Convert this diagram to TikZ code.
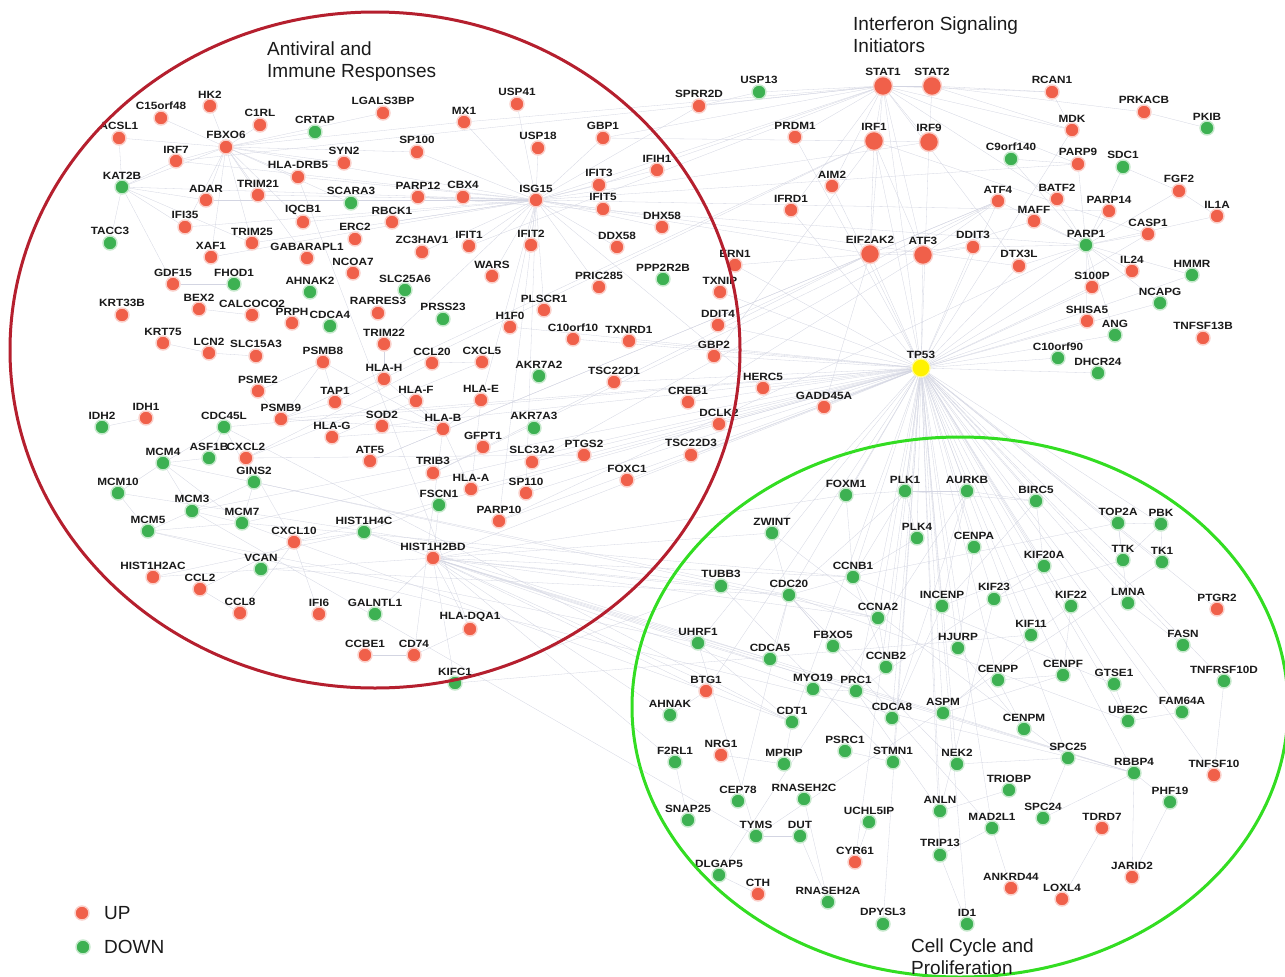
\documentclass[tikz,border=0pt]{standalone}
\usepackage{fontspec}
\setmainfont{Liberation Sans}
\newfontfamily\genefont[FakeStretch=1.12]{Liberation Sans}
\usepackage{tikz}
\usetikzlibrary{backgrounds}
\definecolor{upred}{HTML}{F0604A}
\definecolor{downgreen}{HTML}{3DB152}
\definecolor{hubyellow}{HTML}{FFF200}
\definecolor{edgegray}{HTML}{D3D5E2}
\definecolor{immring}{HTML}{B51F2E}
\definecolor{cycring}{HTML}{33DD22}
\definecolor{labeltext}{HTML}{1A1A1A}
\tikzset{
  edge/.style={draw=edgegray, line width=0.3pt},
  lbl/.style={text=labeltext, inner sep=0pt, font=\genefont\bfseries\fontsize{10.5}{11}\selectfont},
  upgene/.style={circle, fill=upred, draw=upred!30, line width=1.4pt, minimum size=14pt, inner sep=0pt, label distance=3.4pt},
  downgene/.style={circle, fill=downgreen, draw=downgreen!30, line width=1.4pt, minimum size=14pt, inner sep=0pt, label distance=3.4pt},
  biggene/.style={upgene, minimum size=19pt},
  hubgene/.style={circle, fill=hubyellow, draw=hubyellow!40, line width=1.2pt, minimum size=18pt, inner sep=0pt, label distance=3.6pt},
  title/.style={text=labeltext, inner sep=0pt, anchor=base west, font=\fontsize{19}{23}\selectfont},
  legtext/.style={text=labeltext, inner sep=0pt, anchor=west, font=\fontsize{19}{23}\selectfont}
}

\begin{document}
\begin{tikzpicture}[x=1pt, y=-1pt]
  \useasboundingbox (0,0) rectangle (1285,977);

  % up-regulated genes
  \foreach \n/\x/\y in {HK2/210/106, C15orf48/161/118, ACSL1/119/138, C1RL/260/125, FBXO6/226/147,
      IRF7/176/161, HLA-DRB5/298/177, ADAR/206/200, TRIM21/258/195, IQCB1/303/222, IFI35/185/227,
      TRIM25/252/243, XAF1/211/257, GABARAPL1/307/258, GDF15/173/284, KRT33B/122/315, BEX2/199/309,
      CALCOCO2/252/315, PRPH/292/323, KRT75/163/343, LGALS3BP/383/113, MX1/464/122, USP41/517/104,
      SP100/417/152, SYN2/344/163, USP18/538/148, GBP1/603/138, PARP12/418/197, CBX4/463/197,
      ISG15/536/200, IFIT3/599/185, IFIT5/603/209, RBCK1/392/222, ERC2/355/239, ZC3HAV1/422/252,
      IFIT1/469/246, IFIT2/531/245, DDX58/617/247, NCOA7/353/273, WARS/492/276, PRIC285/599/287,
      RARRES3/378/313, PLSCR1/544/310, H1F0/510/327, C10orf10/573/339, TXNRD1/629/341,
      SPRR2D/699/106, PRDM1/795/137, IFIH1/657/170, AIM2/832/186, IFRD1/791/210, DHX58/662/227,
      ERN1/735/265, TXNIP/720/292, DDIT4/718/325, RCAN1/1052/92, PRKACB/1144/112, MDK/1072/130,
      PARP9/1078/164, FGF2/1179/191, ATF4/998/201, BATF2/1057/199, MAFF/1034/221, PARP14/1109/211,
      IL1A/1217/216, CASP1/1148/234, DDIT3/973/247, DTX3L/1019/266, IL24/1132/271, S100P/1092/287,
      SHISA5/1087/321, TNFSF13B/1203/338, GBP2/714/356, HERC5/763/388, CREB1/688/402,
      GADD45A/824/407, DCLK2/719/424, TSC22D3/691/455, LCN2/209/353, SLC15A3/256/356,
      PSMB8/323/362, PSME2/258/391, TAP1/335/402, IDH1/146/418, PSMB9/281/419, HLA-G/332/437,
      CXCL2/246/458, CXCL10/294/542, HIST1H2AC/153/577, CCL2/200/589, CCL8/240/613, IFI6/319/614,
      TRIM22/384/344, CCL20/432/363, CXCL5/482/362, TSC22D1/614/382, HLA-H/384/379, HLA-F/416/401,
      HLA-E/481/400, SOD2/382/426, HLA-B/443/429, GFPT1/483/447, PTGS2/584/455, SLC3A2/532/462,
      ATF5/370/461, TRIB3/433/473, FOXC1/627/480, HLA-A/471/489, SP110/526/493, PARP10/499/521,
      HIST1H2BD/433/558, HLA-DQA1/470/629, CCBE1/365/655, CD74/414/655, PTGR2/1217/609,
      BTG1/706/691, NRG1/721/755, CYR61/855/862, CTH/758/894, TNFSF10/1214/775, TDRD7/1102/828,
      JARID2/1132/877, ANKRD44/1011/888, LOXL4/1062/899}
    \node[upgene, label={[lbl]above:\n}] (\n) at (\x,\y) {};
  \foreach \n/\x/\y in {STAT1/883/86, STAT2/932/86, IRF1/874/141, IRF9/929/142, EIF2AK2/870/254, ATF3/923/255}
    \node[biggene, label={[lbl]above:\n}] (\n) at (\x,\y) {};

  % down-regulated genes
  \foreach \n/\x/\y in {CRTAP/315/132, KAT2B/122/187, TACC3/110/243, FHOD1/234/284, AHNAK2/310/292,
      CDCA4/330/326, SCARA3/351/203, SLC25A6/405/290, PRSS23/443/319, USP13/759/92, PPP2R2B/663/279,
      PKIB/1207/128, C9orf140/1011/159, SDC1/1123/167, PARP1/1086/245, HMMR/1192/275, NCAPG/1160/303,
      ANG/1115/335, C10orf90/1058/358, DHCR24/1098/373, AKR7A2/539/376, AKR7A3/534/428,
      FSCN1/439/505, HIST1H4C/364/532, GALNTL1/375/614, KIFC1/455/683, IDH2/102/427,
      CDC45L/224/427, MCM4/163/463, ASF1B/209/458, GINS2/254/482, MCM10/118/493, MCM3/192/511,
      MCM7/242/523, MCM5/148/531, VCAN/261/569, FOXM1/846/495, PLK1/905/491, AURKB/967/491,
      BIRC5/1036/501, TOP2A/1118/523, PBK/1161/524, ZWINT/772/533, PLK4/917/538, CENPA/974/547,
      KIF20A/1044/566, TTK/1123/560, TK1/1162/562, CCNB1/853/577, TUBB3/721/586, CDC20/789/595,
      INCENP/942/606, KIF23/994/599, KIF22/1071/606, LMNA/1128/603, CCNA2/878/618, KIF11/1031/635,
      UHRF1/698/643, FBXO5/833/646, HJURP/958/648, FASN/1183/645, CDCA5/770/659, CCNB2/886/667,
      CENPP/998/680, CENPF/1063/675, GTSE1/1114/684, TNFRSF10D/1224/681, MYO19/813/689,
      PRC1/856/691, FAM64A/1182/712, AHNAK/670/715, CDT1/792/722, CDCA8/892/718, ASPM/943/713,
      UBE2C/1128/721, CENPM/1024/729, F2RL1/675/762, MPRIP/784/764, PSRC1/845/751, STMN1/893/762,
      NEK2/957/764, SPC25/1068/758, RBBP4/1134/773, CEP78/738/801, RNASEH2C/804/799,
      SNAP25/688/820, UCHL5IP/869/822, ANLN/940/811, TRIOBP/1009/790, PHF19/1170/802,
      TYMS/756/836, DUT/800/836, SPC24/1043/818, MAD2L1/992/828, TRIP13/940/855,
      DLGAP5/719/875, RNASEH2A/828/902, DPYSL3/883/924, ID1/967/924}
    \node[downgene, label={[lbl]above:\n}] (\n) at (\x,\y) {};

  \node[hubgene, label={[lbl]above:TP53}] (TP53) at (921,368) {};

  % interactions
  \begin{pgfonlayer}{background}
    \fill[white] (0,0) rectangle (1285,977);
    \foreach \b in {GADD45A, HERC5, DDIT4, TXNIP, ERN1, GBP2, CREB1, DCLK2, TSC22D3, TSC22D1, FOXC1,
        PTGS2, SLC3A2, H1F0, TXNRD1, C10orf10, EIF2AK2, ATF3, DDIT3, ATF4, PARP1, DTX3L, S100P,
        SHISA5, ANG, C10orf90, DHCR24, IL24, HMMR, NCAPG, CASP1, MDK, IRF1, IRF9, STAT1, AIM2,
        IFRD1, FOXM1, PLK1, AURKB, BIRC5, TOP2A, PBK, PLK4, CENPA, TTK, TK1, CCNB1, INCENP, CCNA2,
        KIF20A, KIF23, ZWINT, CDC20, LMNA, HJURP, FASN, CCNB2, ASPM, BTG1, PRC1, CDCA8, STMN1, ID1,
        DPYSL3, CYR61, MAD2L1, RBBP4, TNFSF10, TNFRSF10D, GTSE1, SPC25, UBE2C, CENPF, CENPP, PTGR2,
        FAM64A, KIF11, KIF22, UHRF1, NEK2, TRIP13, ANLN, CDT1, MCM7, MCM3, CDC45L, CXCL10,
        HIST1H2BD, PARP10, SP110, HLA-A, PSMB9, SOD2, PRDM1}
      \draw[edge] (TP53) -- (\b);
    \foreach \b in {IFIT1, IFIT2, IFIT3, IFIT5, MX1, USP18, USP41, GBP1, SP100, PARP12, CBX4, ZC3HAV1,
        RBCK1, WARS, DDX58, IFIH1, DHX58, HERC5, IRF7, FBXO6, TRIM21, TRIM25, IFI35, XAF1, ADAR,
        PLSCR1, PRIC285, HLA-DRB5, IQCB1, HLA-E, STAT1, IRF9, EIF2AK2, SPRR2D, PARP9, PARP14, DTX3L,
        KAT2B, TRIM22, H1F0, SP110, PARP10}
      \draw[edge] (ISG15) -- (\b);
    \foreach \b in {C1RL, HK2, C15orf48, ACSL1, IRF7, ADAR, TRIM21, HLA-DRB5, IQCB1, KAT2B, TRIM25,
        IFI35, XAF1, GABARAPL1, LGALS3BP, SYN2, SCARA3, CRTAP, MX1, SP100}
      \draw[edge] (FBXO6) -- (\b);
    \foreach \b in {STAT2, IRF1, IRF9, USP13, PRDM1, EIF2AK2, ATF3, AIM2, IFIT3, GBP1, MX1, PARP9,
        BATF2, DTX3L, IFRD1, SPRR2D, RCAN1, MDK, IRF7, IFIT1}
      \draw[edge] (STAT1) -- (\b);
    \foreach \b in {PARP9, PARP14, PARP12, PARP10, DTX3L, CASP1, IL24, S100P, SHISA5, ANG, NCAPG,
        HMMR, IL1A, FGF2, SDC1, C9orf140, BATF2, MAFF, DDIT3, ATF4}
      \draw[edge] (PARP1) -- (\b);
    \foreach \b in {CCNB1, CDC20, TUBB3, UHRF1, CCNA2, AHNAK, CDT1, RBBP4, BTG1, F2RL1, MYO19, PRC1,
        HIST1H4C, HIST1H2AC, FSCN1, ZWINT, FOXM1, CDCA5, KIFC1, HLA-DQA1}
      \draw[edge] (HIST1H2BD) -- (\b);
    \foreach \a/\b in {STAT2/IRF9, STAT2/RCAN1, STAT2/PRKACB, STAT2/MDK, PRKACB/PKIB, RCAN1/MDK,
        IRF1/IRF9, IRF1/EIF2AK2, IRF1/ATF3, IRF1/GBP1, IRF1/GBP2, IRF1/TAP1, IRF1/PSMB9, IRF1/CASP1,
        EIF2AK2/ATF3, EIF2AK2/DDIT3, EIF2AK2/ATF4, EIF2AK2/ATF5, EIF2AK2/TRIB3, EIF2AK2/ERN1,
        EIF2AK2/DDIT4, EIF2AK2/GADD45A, ATF3/DDIT3, ATF3/ATF4, ATF3/MAFF, ATF3/CREB1, ATF4/TRIB3,
        ATF4/ATF5, ATF4/SLC3A2, FGF2/SDC1, FGF2/IL1A, USP13/SPRR2D, C9orf140/PARP9,
        KAT2B/TACC3, KAT2B/IRF7, KAT2B/ADAR, KAT2B/IFI35, KAT2B/GDF15, KAT2B/ACSL1, KAT2B/TRIM25,
        HLA-B/HLA-A, HLA-B/HLA-E, HLA-B/HLA-F, HLA-B/HLA-G, HLA-B/HLA-H, HLA-B/TAP1, HLA-B/PSMB8,
        HLA-B/PSMB9, HLA-B/CD74, TAP1/PSMB8, TAP1/PSMB9, PSME2/PSMB9, PSMB8/PSMB9, PSME2/PSMB8,
        CD74/HLA-DQA1, HLA-DQA1/HLA-DRB5, CD74/CCBE1, HLA-A/HLA-E, HLA-F/HLA-G, TRIM22/HLA-H,
        CXCL10/CXCL2, CXCL10/CCL2, CCL8/CCL2, CCL20/CXCL5, CXCL5/CXCL2, CXCL10/IFI6, PTGS2/CXCL2,
        CXCL10/CCL8, CCL20/CXCL2, LCN2/SLC15A3, LCN2/KRT75, BEX2/CALCOCO2, FHOD1/GDF15,
        MCM3/MCM4, MCM3/MCM5, MCM3/MCM7, MCM4/MCM7, MCM5/MCM7, MCM10/MCM4, MCM10/MCM5,
        CDC45L/MCM4, CDC45L/GINS2, GINS2/MCM3, ASF1B/MCM4, IDH1/IDH2, MCM7/GINS2, ASF1B/CDC45L,
        MCM5/UHRF1, MCM7/CDT1, MCM3/TYMS, MCM4/CDC20, CDC45L/CDT1, GINS2/CCNA2, MCM5/RBBP4,
        MCM7/CCNB1, MCM10/TUBB3, VCAN/CDC20, HIST1H4C/RBBP4, HIST1H4C/HIST1H2AC, HIST1H4C/FSCN1,
        KIFC1/KIF11, KIFC1/TUBB3, GALNTL1/HIST1H2BD, CXCL10/HIST1H4C,
        PLK1/CCNB1, PLK1/AURKB, PLK1/BIRC5, PLK1/FOXM1, PLK1/CDC20, PLK1/PLK4, AURKB/BIRC5,
        AURKB/INCENP, BIRC5/INCENP, CCNB1/CDC20, CCNB1/CCNA2, CCNB1/CCNB2, CCNA2/CCNB2,
        FOXM1/CCNB1, TOP2A/TTK, TTK/PBK, TK1/PBK, TOP2A/PBK, KIF20A/KIF23, KIF23/PRC1, KIF11/KIF22,
        CENPA/HJURP, CENPF/CENPP, CENPM/CENPP, SPC25/SPC24, MAD2L1/CDC20, MAD2L1/TRIP13,
        NEK2/CDC20, ASPM/CENPF, CDCA8/AURKB, CDCA8/INCENP, CDCA5/CDC20, FBXO5/CDC20, UBE2C/CDC20,
        GTSE1/CCNB1, RBBP4/UHRF1, UHRF1/TYMS, TYMS/DUT, RNASEH2A/RNASEH2C, DLGAP5/AURKB,
        ZWINT/CDC20, ZWINT/SPC25, PSRC1/STMN1, MYO19/PRC1, ANLN/PRC1, KIF23/ANLN, TRIOBP/ANLN,
        TNFRSF10D/TNFSF10, RBBP4/PHF19, RBBP4/JARID2, JARID2/PHF19, LMNA/TOP2A, FAM64A/UBE2C,
        TOP2A/CCNB1, BIRC5/KIF20A, TTK/KIF23, TK1/TYMS, KIF22/CENPF, HJURP/CENPM, INCENP/KIF20A,
        CDC20/CCNA2, CDT1/UHRF1, CDT1/MPRIP, STMN1/TUBB3, DUT/RNASEH2A, CEP78/CDC20, ANKRD44/MAD2L1,
        LOXL4/TDRD7, SPC24/RBBP4, GTSE1/UBE2C, PLK4/CCNB1, FASN/LMNA, SNAP25/F2RL1, DLGAP5/CTH,
        CYR61/UCHL5IP, ID1/TRIP13, ASPM/KIF11, NEK2/SPC25, CDCA8/PRC1, AHNAK/BTG1, NRG1/MPRIP}
      \draw[edge] (\a) -- (\b);
  \end{pgfonlayer}

  % module outlines
  \draw[immring, line width=3pt] (375,350) ellipse [x radius=365pt, y radius=338pt];
  \draw[cycring, line width=3pt] (960,707) ellipse [x radius=328pt, y radius=270pt];

  % module titles
  \node[title] (immtitle1) at (267,55) {Antiviral and};
  \node[title] (immtitle2) at (267,77) {Immune Responses};
  \node[title] (ifntitle1) at (853,30) {Interferon Signaling};
  \node[title] (ifntitle2) at (853,52) {Initiators};
  \node[title] (cyctitle1) at (911,952) {Cell Cycle and};
  \node[title] (cyctitle2) at (911,974) {Proliferation};

  % legend
  \node[upgene] (legup) at (82,913) {};
  \node[legtext] (leguptext) at (104,913) {UP};
  \node[downgene] (legdown) at (83,947) {};
  \node[legtext] (legdowntext) at (104,947) {DOWN};
\end{tikzpicture}
\end{document}
